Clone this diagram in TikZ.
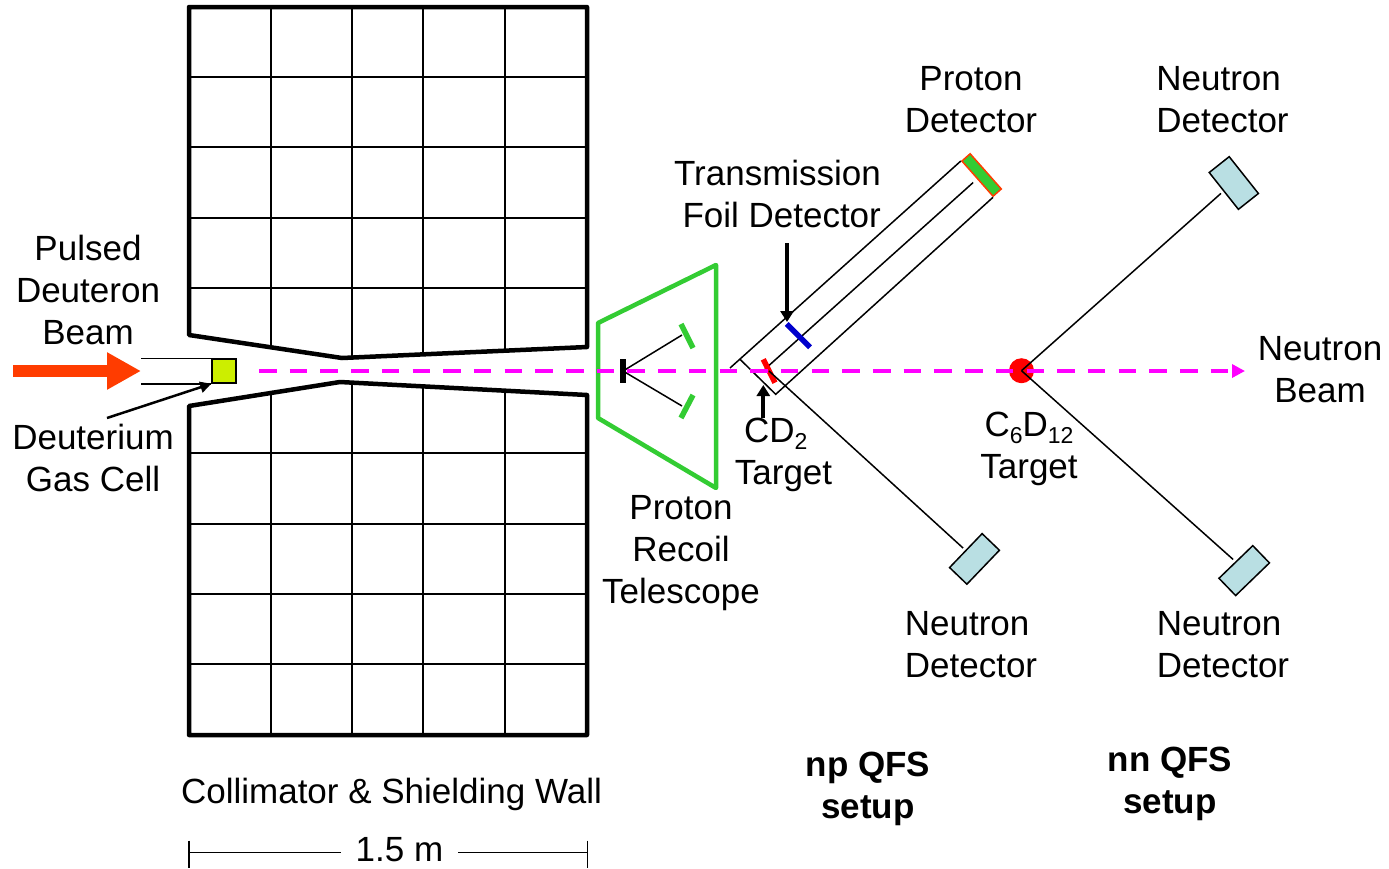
\documentclass[tikz,border=0pt]{standalone}
\usepackage{fontspec}
\setmainfont{Liberation Sans}
\usetikzlibrary{arrows.meta}
\definecolor{beamred}{HTML}{FF3C00}
\definecolor{cellgreen}{HTML}{CCEE00}
\definecolor{ptgreen}{HTML}{33CC33}
\definecolor{detblue}{HTML}{B9DFE3}
\definecolor{nbeam}{HTML}{FF00FF}
\newcommand{\lowidx}[1]{\raisebox{-7pt}{\fontsize{23}{23}\selectfont #1}}
\tikzset{
	lbl/.style={inner sep=0pt,align=center,font=\fontsize{35}{42}\selectfont},
	thinline/.style={line width=1.5pt},
	wallline/.style={line width=4.5pt,line join=round},
	strip/.style={line width=5.5pt},
	detbox/.style={draw,thinline,fill=detblue,inner sep=0pt,minimum width=47pt,minimum height=24pt},
	ptr/.style={line width=4pt,-{Triangle[length=11pt,width=13pt]}},
}
\begin{document}
\begin{tikzpicture}[x=1pt,y=-1pt]
	\useasboundingbox (0,0) rectangle (1389,868);
	%
	% wall
	\begin{scope}
		\clip (189,7) -- (189,335) -- (342,358) -- (587,347) -- (587,7) -- cycle;
		\foreach \gy in {77,147,218,288} \draw[thinline] (189,\gy) -- (587,\gy);
		\foreach \gx in {271,352,423,505} \draw[thinline] (\gx,7) -- (\gx,360);
	\end{scope}
	\begin{scope}
		\clip (189,406) -- (340,382) -- (587,395) -- (587,735) -- (189,735) -- cycle;
		\foreach \gy in {453,524,594,664} \draw[thinline] (189,\gy) -- (587,\gy);
		\foreach \gx in {271,352,423,505} \draw[thinline] (\gx,380) -- (\gx,735);
	\end{scope}
	\draw[wallline] (189,335) -- (189,7) -- (587,7) -- (587,347) -- (342,358) -- cycle;
	\draw[wallline] (189,406) -- (189,735) -- (587,735) -- (587,395) -- (340,382) -- cycle;
	%
	% source
	\coordinate (beamtip) at (141,371);
	\coordinate (beamtail) at (13,371);
	\node[draw,thinline,fill=cellgreen,minimum size=24pt,inner sep=0pt] (cell) at (224,371) {};
	\draw[thinline] (beamtip |- cell.north) -- (cell.north west);
	\draw[thinline] (beamtip |- cell.south) -- (cell.south west);
	\draw[beamred,line width=12pt,-{Triangle[length=34pt,width=35pt]}] (beamtail) -- (beamtip);
	%
	% targets and telescope, below the beam
	\node[circle,fill=red,minimum size=25pt,inner sep=0pt] (cdtarget) at (1021.5,370.7) {};
	\draw[ptgreen,line width=4.5pt,line join=round] (598,323) -- (716,265) -- (716,488) -- (598,418) -- cycle;
	\coordinate (ptfoil) at (623,371);
	\coordinate (ptup) at (682,335);
	\coordinate (ptdown) at (682,406);
	\draw[thinline] (ptup) -- (ptfoil) -- (ptdown);
	\draw[strip] (623,359) -- (623,383);
	\draw[ptgreen,strip] (681,324) -- (693,348);
	\draw[ptgreen,strip] (693,395) -- (681,418);
	%
	% np setup
	\node[draw=beamred,thinline,fill=ptgreen,inner sep=0pt,minimum width=47pt,minimum height=11pt,rotate=-48.5] (pdet) at (981.6,175) {};
	\coordinate (npcap) at (740,359.3);
	\coordinate (npcorner) at (775.7,394.3);
	\coordinate (npstart) at (730,368);
	\coordinate (npmid) at (765,369);
	\draw[thinline] (npstart) -- (pdet.south west);
	\draw[thinline,shorten >=5pt] (npmid) -- (pdet.south);
	\draw[thinline] (npcap) -- (npcorner) -- (pdet.south east);
	\draw[red,strip] (763.3,359.3) -- (775,382.7);
	\draw[blue!80!black,strip] (786.7,324) -- (810,347.3);
	\node[detbox,rotate=46.2] (ndnp) at (974.5,558.9) {};
	\coordinate (nptarget) at (769,371);
	\draw[thinline,shorten >=3pt] (nptarget) -- (ndnp.north);
	%
	% nn setup
	\node[detbox,minimum height=25.5pt,rotate=-51.6] (ndup) at (1233.8,183) {};
	\node[detbox,rotate=44] (nddown) at (1244.2,570.6) {};
	\draw[thinline,shorten >=3pt] (cdtarget.center) -- (ndup.south);
	\draw[thinline,shorten >=3pt] (cdtarget.center) -- (nddown.north);
	%
	% neutron beam
	\coordinate (nbeamstart) at (259,371);
	\coordinate (nbeamend) at (1245,371);
	\draw[nbeam,line width=4.5pt,dash pattern=on 17.5pt off 13.2pt,-{Triangle[length=13pt,width=13pt]}] (nbeamstart) -- (nbeamend);
	%
	% labels
	\node[lbl] (lpulsed) at (88,290) {Pulsed\\Deuteron\\Beam};
	\node[lbl] (lcell) at (93,458) {Deuterium\\Gas Cell};
	\node[lbl] (lwall) at (391.5,794) {Collimator \& Shielding Wall};
	\node[lbl] (lrecoil) at (681,553) {Proton\\Recoil\\Telescope};
	\node[lbl,align=right] (lfoil) at (777.5,194) {Transmission\\Foil Detector};
	\node[lbl] (lpdet) at (971,100) {Proton\\Detector};
	\node[lbl,align=left] (lndup) at (1222.5,100) {Neutron\\Detector};
	\node[lbl] (lcd) at (783.5,455) {\makebox[79pt][l]{CD\lowidx{2}}\\Target};
	\node[lbl] (lcsix) at (1029,449) {C\lowidx{6}D\lowidx{12}\\Target};
	\node[lbl] (lnbeam) at (1320,370) {Neutron\\Beam};
	\node[lbl,align=left] (lndnp) at (971,645) {Neutron\\Detector};
	\node[lbl,align=left] (lnddown) at (1223,645) {Neutron\\Detector};
	\node[lbl,font=\fontsize{35}{42}\selectfont\bfseries] (lnp) at (868,789) {np QFS\\setup};
	\node[lbl,font=\fontsize{35}{42}\selectfont\bfseries] (lnn) at (1170,784) {nn QFS\\setup};
	%
	% pointers
	\coordinate (foiltop) at (787,243);
	\coordinate (foiltip) at (787,322);
	\coordinate (cdbottom) at (763.3,418);
	\coordinate (cdtip) at (763.3,385);
	\coordinate (cellfrom) at (107,418);
	\draw[ptr] (foiltop) -- (foiltip);
	\draw[ptr] (cdbottom) -- (cdtip);
	\draw[line width=2.5pt,-{Triangle[length=11pt,width=11pt]}] (cellfrom) -- (cell.south west);
	%
	% scale
	\node[lbl,inner xsep=15pt] (lscale) at (399.5,850) {1.5 m};
	\coordinate (scaleleft) at (189,852.7);
	\coordinate (scaleright) at (587.3,852.7);
	\draw[thinline] (scaleleft) -- (lscale.west |- scaleleft);
	\draw[thinline] (lscale.east |- scaleright) -- (scaleright);
	\draw[thinline] (scaleleft |- 0,840.7) -- (scaleleft |- 0,868);
	\draw[thinline] (scaleright |- 0,840.7) -- (scaleright |- 0,868);
\end{tikzpicture}
\end{document}
